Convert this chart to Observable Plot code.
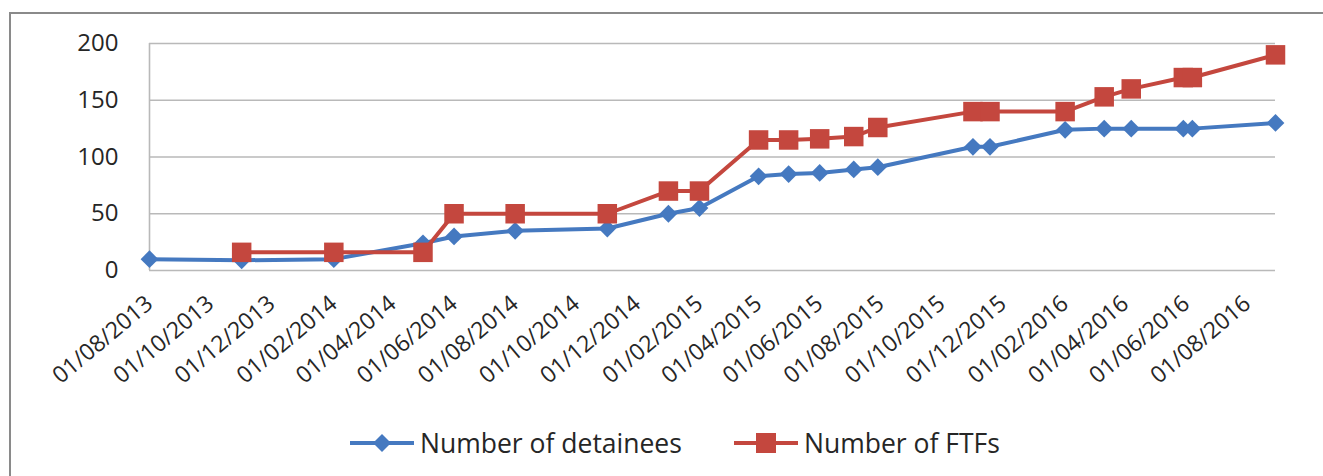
<!DOCTYPE html>
<html><head><meta charset="utf-8">
<script src="https://cdn.jsdelivr.net/npm/d3@7"></script>
<script src="https://cdn.jsdelivr.net/npm/@observablehq/plot@0.6"></script>
<style>
html,body{margin:0;padding:0;background:#fff;width:1323px;height:476px;overflow:hidden;}
#frame{position:absolute;left:9px;top:12px;width:1400px;height:600px;border:2px solid #8a8a8a;box-sizing:border-box;}
#chart{position:absolute;left:0;top:0;}
#legend{position:absolute;top:425px;left:0;width:1323px;height:36px;font-family:"Open Sans";font-size:26.5px;color:#262626;}
.item{position:absolute;top:0;height:36px;display:flex;align-items:center;white-space:nowrap;}
.item svg{margin-right:6px;}
</style></head><body>
<div id="frame"></div>
<div id="chart"></div>
<div id="legend"></div>
<script>
// ---- data ----
const dates = ["2013-08-01","2013-11-01","2014-02-01","2014-05-01","2014-06-01","2014-08-01","2014-11-01",
  "2015-01-01","2015-02-01","2015-04-01","2015-05-01","2015-06-01","2015-07-05","2015-07-29",
  "2015-11-01","2015-11-18","2016-02-01","2016-03-11","2016-04-07","2016-05-29","2016-06-07","2016-08-29"];
const detainees = [10,9,10,24,30,35,37,50,55,83,85,86,89,91,109,109,124,125,125,125,125,130];
const ftfs = [null,16,16,16,50,50,50,70,70,115,115,116,118,126,140,140,140,153,160,170,170,190];
const seriesNames = ["Number of detainees","Number of FTFs"];
const colors = ["#4579c0","#c4473e"];
const xTickDates = ["2013-08-01","2013-10-01","2013-12-01","2014-02-01","2014-04-01","2014-06-01","2014-08-01",
  "2014-10-01","2014-12-01","2015-02-01","2015-04-01","2015-06-01","2015-08-01","2015-10-01","2015-12-01",
  "2016-02-01","2016-04-01","2016-06-01","2016-08-01"];
const yTicks = [0,50,100,150,200];
const xDomain = ["2013-08-01","2016-08-29"];

// ---- build ----
const parse = d3.utcParse("%Y-%m-%d");
const det = dates.map((d,i)=>({date:parse(d), value:detainees[i]}));
const ftf = dates.map((d,i)=>({date:parse(d), value:ftfs[i]})).filter(r=>r.value!=null);

const chart = Plot.plot({
  width: 1323, height: 400,
  marginLeft: 149, marginRight: 48, marginTop: 43, marginBottom: 130,
  style: {fontFamily: "Open Sans", fontSize: "24px", color: "#262626", background: "transparent", overflow: "visible"},
  x: {type: "utc", domain: xDomain.map(parse)},
  y: {domain: [0,200]},
  marks: [
    Plot.gridY(yTicks, {stroke: "#b9b9b9", strokeOpacity: 1, strokeWidth: 1.6}),
    Plot.ruleX([parse(xDomain[0])], {y1: 0, y2: 200, stroke: "#b9b9b9", strokeWidth: 1.6}),
    Plot.axisY(yTicks, {tickSize: 0, tickPadding: 31, label: null, fontSize: 24}),
    Plot.axisX(xTickDates.map(parse), {tickFormat: d3.utcFormat("%d/%m/%Y"), tickRotate: -40, tickSize: 0,
      tickPadding: 30, label: null, fontSize: 23}),
    Plot.lineY(det, {x: "date", y: "value", stroke: colors[0], strokeWidth: 4}),
    Plot.dot(det, {x: "date", y: "value", symbol: "diamond2", r: 8, fill: colors[0], stroke: "none"}),
    Plot.lineY(ftf, {x: "date", y: "value", stroke: colors[1], strokeWidth: 4}),
    Plot.dot(ftf, {x: "date", y: "value", symbol: "square", r: 11, fill: colors[1], stroke: "none"})
  ]
});
document.getElementById("chart").appendChild(chart);

// ---- legend ----
const legend = document.getElementById("legend");
const legendLeft = [350, 734];
const legendSymbols = ["diamond","square"];
seriesNames.forEach((name,i)=>{
  const item = document.createElement("div");
  item.className = "item";
  item.style.left = legendLeft[i] + "px";
  const c = colors[i];
  const sym = legendSymbols[i] === "diamond"
    ? `<path d="M32,5 L41,14 L32,23 L23,14 Z" fill="${c}"/>`
    : `<rect x="22" y="4" width="20" height="20" fill="${c}"/>`;
  item.innerHTML = `<svg width="64" height="28"><line x1="0" y1="14" x2="64" y2="14" stroke="${c}" stroke-width="4"/>${sym}</svg><span>${name}</span>`;
  legend.appendChild(item);
});
</script>
</body></html>
